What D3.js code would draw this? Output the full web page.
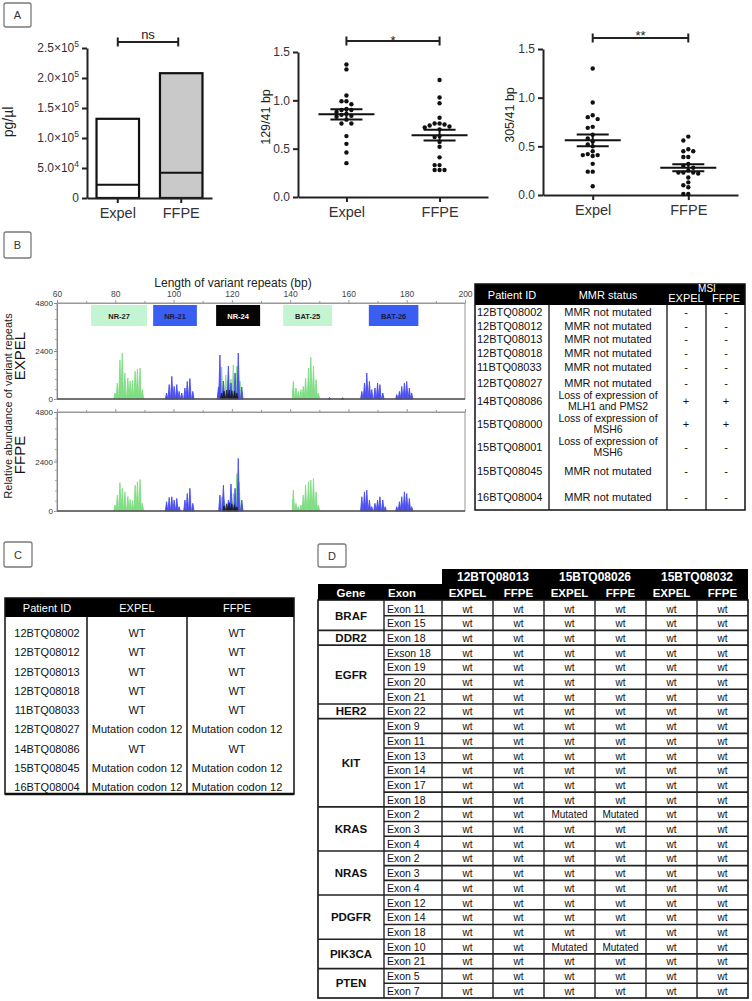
<!DOCTYPE html>
<html><head><meta charset="utf-8">
<script src="https://cdn.jsdelivr.net/npm/d3@7/dist/d3.min.js"></script>
<style>
html,body{margin:0;padding:0;background:#fff;}
svg{display:block;font-family:Arial,"Liberation Sans",Helvetica,sans-serif;}
</style></head>
<body>
<svg id="fig" width="752" height="1001" viewBox="0 0 752 1001"></svg>
<script>
// ================= DATA =================
// Panel A
const groups = ["Expel", "FFPE"];
const dnaTotal = [132000, 208000];
const dnaInner = [22000, 42000];
const dnaTicks = [0, 50000, 100000, 150000, 200000, 250000];
const dnaTickMantissa = ["0", "5.0", "1.0", "1.5", "2.0", "2.5"];
const dnaTickExponent = ["", "4", "5", "5", "5", "5"];
const ratioTicks = [0, 0.5, 1.0, 1.5];
const r129Expel = [1.32, 1.37, 1.05, 0.99, 0.99, 0.96, 0.91, 0.90, 0.90, 0.88, 0.86, 0.85, 0.84, 0.83, 0.80, 0.76, 0.76, 0.63, 0.55, 0.46, 0.35];
const r129FFPE = [1.21, 1.03, 0.97, 0.82, 0.76, 0.76, 0.75, 0.74, 0.73, 0.72, 0.70, 0.63, 0.62, 0.57, 0.52, 0.41, 0.33, 0.33, 0.28, 0.28, 0.28];
const r305Expel = [1.30, 0.95, 0.82, 0.80, 0.78, 0.70, 0.69, 0.62, 0.58, 0.55, 0.52, 0.50, 0.45, 0.42, 0.41, 0.41, 0.40, 0.32, 0.24, 0.24, 0.09];
const r305FFPE = [0.60, 0.56, 0.47, 0.45, 0.45, 0.39, 0.39, 0.32, 0.30, 0.28, 0.25, 0.23, 0.23, 0.23, 0.22, 0.18, 0.13, 0.10, 0.08, 0.01, 0.01];
const sigLabels = ["ns", "*", "**"];

// Panel B electropherogram
const bpTicks = [60, 80, 100, 120, 140, 160, 180, 200];
const bpMinorTicks = [70, 90, 110, 130, 150, 170, 190];
const abundanceTicks = [0, 2400, 4800];
const markerNames = ["NR-27", "NR-21", "NR-24", "BAT-25", "BAT-26"];
const markerStart = [71.7, 93.0, 114.6, 137.6, 167.0];
const markerEnd = [90.9, 108.0, 129.7, 154.4, 184.0];
const markerDye = ["green", "blue", "black", "green", "blue"];
const expelGreen = [[79.9,300],[80.7,800],[81.6,1950],[82.4,2300],[83.3,1300],[84.3,1050],[85.1,900],[85.9,930],[86.8,1390],[87.6,1500],[88.5,1550],[89.3,470],
  [115.9,400],[116.5,1600],[117.9,1200],[119.7,1000],[120.5,1700],[121.7,1650],[122.8,900],
  [141.1,880],[142.0,550],[142.8,380],[143.7,470],[144.5,630],[145.3,1050],[146.3,1550],[147.1,2080],[148.0,1640],[148.9,970],[149.7,300]];
const expelBlue = [[97.6,300],[98.5,720],[99.4,1130],[100.2,630],[101.1,720],[101.9,380],[102.8,300],[103.9,550],[104.7,880],[105.6,1020],[106.6,380],
  [115.4,600],[115.9,2200],[117.1,900],[118.8,1640],[119.7,800],[121.1,1300],[122.2,2300],[123.4,600],
  [153.5,80],[158.0,60],
  [164.6,380],[165.5,800],[166.3,1300],[167.2,880],[168.0,470],[169.1,550],[170.0,800],[170.8,720],[171.8,300],
  [176.6,220],[177.5,380],[178.3,630],[179.2,800],[180.0,880],[180.9,550],[181.7,300]];
const expelBlack = [[116.5,300],[117.3,400],[118.2,450],[119.1,450],[120.0,420],[120.9,400],[121.7,300]];
const ffpeGreen = [[79.9,290],[80.7,770],[81.6,1370],[82.4,1100],[83.3,930],[84.3,700],[85.1,560],[85.9,500],[86.8,1250],[87.6,1420],[88.5,1530],[89.3,370],
  [116.5,690],[117.5,500],[119.0,450],[120.5,850],[121.7,1820],[122.5,1400],[123.4,300],
  [141.1,1010],[142.0,370],[142.8,210],[143.7,290],[144.5,770],[145.3,1250],[146.3,1420],[147.1,1500],[148.0,1580],[148.9,930],[149.7,290]];
const ffpeBlue = [[97.6,450],[98.5,660],[99.4,690],[100.2,530],[101.1,610],[101.9,210],[103.9,530],[104.7,850],[105.6,1100],[106.6,370],
  [115.9,770],[117.1,1250],[118.8,530],[119.7,1310],[121.1,1100],[122.2,2550],[123.4,530],
  [164.6,690],[165.5,930],[166.3,1010],[167.2,530],[168.0,210],[169.1,370],[170.0,530],[170.8,690],[171.8,530],[172.6,210],
  [176.6,210],[177.5,450],[178.3,690],[179.2,930],[180.0,850],[180.9,610],[181.7,210]];
const ffpeBlack = [[117.3,250],[118.2,350],[119.1,400],[120.0,350],[120.9,300],[121.7,200]];

// Panel B table
const msiPatients = ["12BTQ08002","12BTQ08012","12BTQ08013","12BTQ08018","11BTQ08033","12BTQ08027","14BTQ08086","15BTQ08000","15BTQ08001","15BTQ08045","16BTQ08004"];
const mmrStatus = ["MMR not mutated","MMR not mutated","MMR not mutated","MMR not mutated","MMR not mutated","MMR not mutated",
  "Loss of expression of|MLH1 and PMS2","Loss of expression of|MSH6","Loss of expression of|MSH6","MMR not mutated","MMR not mutated"];
const msiExpel = ["-","-","-","-","-","-","+","+","-","-","-"];
const msiFFPE  = ["-","-","-","-","-","-","+","+","-","-","-"];

// Panel C table
const krasPatients = ["12BTQ08002","12BTQ08012","12BTQ08013","12BTQ08018","11BTQ08033","12BTQ08027","14BTQ08086","15BTQ08045","16BTQ08004"];
const krasExpel = ["WT","WT","WT","WT","WT","Mutation codon 12","WT","Mutation codon 12","Mutation codon 12"];
const krasFFPE  = ["WT","WT","WT","WT","WT","Mutation codon 12","WT","Mutation codon 12","Mutation codon 12"];

// Panel D table
const genes = ["BRAF","DDR2","EGFR","HER2","KIT","KRAS","NRAS","PDGFR","PIK3CA","PTEN"];
const geneExons = [["Exon 11","Exon 15"],["Exon 18"],["Exson 18","Exon 19","Exon 20","Exon 21"],["Exon 22"],
  ["Exon 9","Exon 11","Exon 13","Exon 14","Exon 17","Exon 18"],["Exon 2","Exon 3","Exon 4"],["Exon 2","Exon 3","Exon 4"],
  ["Exon 12","Exon 14","Exon 18"],["Exon 10","Exon 21"],["Exon 5","Exon 7"]];
const ngsPatients = ["12BTQ08013","15BTQ08026","15BTQ08032"];
const sampleTypes = ["EXPEL","FFPE"];
const mutatedGene = ["KRAS","PIK3CA"];
const mutatedExon = ["Exon 2","Exon 10"];
const mutatedPatient = ["15BTQ08026","15BTQ08026"];

// ================= DRAW =================
const svg = d3.select("#fig");
const FONT = 'Arial, "Liberation Sans", Helvetica, sans-serif';

function panelLabel(x, y, w, h, t) {
  svg.append("rect").attr("x", x).attr("y", y).attr("width", w).attr("height", h).attr("rx", 2)
    .attr("fill", "#fff").attr("stroke", "#7a7a7a").attr("stroke-width", 1.3);
  svg.append("text").attr("x", x + w / 2).attr("y", y + h / 2 + 4).attr("text-anchor", "middle")
    .attr("font-size", 11).attr("fill", "#333").text(t);
}
function styleAxis(g, fs, col, w) {
  g.attr("font-family", FONT);
  g.select(".domain").attr("stroke", col).attr("stroke-width", w);
  g.selectAll(".tick line").attr("stroke", col).attr("stroke-width", w);
  g.selectAll(".tick text").attr("font-size", fs).attr("fill", "#333");
}
function bracket(xa, xb, y, label, ty, fs) {
  const p = d3.path();
  p.moveTo(xa, y); p.lineTo(xb, y);
  p.moveTo(xa, y - 4.5); p.lineTo(xa, y + 4.5);
  p.moveTo(xb, y - 4.5); p.lineTo(xb, y + 4.5);
  svg.append("path").attr("d", p.toString()).attr("stroke", "#222").attr("stroke-width", 2).attr("fill", "none");
  svg.append("text").attr("x", (xa + xb) / 2).attr("y", ty).attr("text-anchor", "middle")
    .attr("font-size", fs).attr("fill", "#222").text(label);
}

// ---- Panel A
panelLabel(4, 3, 27, 24, "A");

// bar chart
const yA1 = d3.scaleLinear().domain([0, 250000]).range([198, 48]);
const xA1 = d3.scaleBand().domain(groups).range([87, 212]).paddingInner(0.33).paddingOuter(0.15);
const gy1 = svg.append("g").attr("transform", "translate(87,0)")
  .call(d3.axisLeft(yA1).tickValues(dnaTicks).tickSize(5).tickSizeOuter(0));
styleAxis(gy1, 12, "#222", 2);
gy1.selectAll(".tick text").each(function (d) {
  const k = dnaTicks.indexOf(d);
  const t = d3.select(this).text("");
  if (!dnaTickExponent[k]) { t.text(dnaTickMantissa[k]); return; }
  t.append("tspan").text(dnaTickMantissa[k] + "×10");
  t.append("tspan").attr("dy", -5).attr("font-size", 8.5).text(dnaTickExponent[k]);
});
svg.selectAll(".barA").data(groups).join("rect").attr("class", "barA")
  .attr("x", d => xA1(d)).attr("y", (d, i) => yA1(dnaTotal[i]))
  .attr("width", xA1.bandwidth()).attr("height", (d, i) => yA1(0) - yA1(dnaTotal[i]))
  .attr("fill", (d, i) => i ? "#c9c9c9" : "#fff").attr("stroke", "#111").attr("stroke-width", 2.2);
svg.selectAll(".barInner").data(groups).join("line").attr("class", "barInner")
  .attr("x1", d => xA1(d)).attr("x2", d => xA1(d) + xA1.bandwidth())
  .attr("y1", (d, i) => yA1(dnaInner[i])).attr("y2", (d, i) => yA1(dnaInner[i]))
  .attr("stroke", "#111").attr("stroke-width", 2);
const gx1 = svg.append("g").attr("transform", "translate(0,198)")
  .call(d3.axisBottom(xA1).tickSize(5).tickSizeOuter(0).tickPadding(5));
styleAxis(gx1, 14.5, "#222", 2);
svg.append("text").attr("transform", "translate(13,122) rotate(-90)").attr("text-anchor", "middle")
  .attr("font-size", 14).attr("fill", "#222").text("pg/µl");
bracket(xA1("Expel") + xA1.bandwidth() / 2, xA1("FFPE") + xA1.bandwidth() / 2 - 3, 42, sigLabels[0], 39, 13);

// scatter
function swarm(vals, y, cx, r) {
  const pts = vals.map(v => ({ v, y: y(v) })).sort((a, b) => a.y - b.y);
  const placed = [];
  const s = r * 2.25;
  for (const p of pts) {
    for (let k = 0; k < 30; k++) {
      const off = (k % 2 ? -1 : 1) * Math.ceil(k / 2) * s;
      const x = cx + off;
      const ok = placed.every(q => (q.x - x) ** 2 + (q.y - p.y) ** 2 >= (2 * r + 0.4) ** 2);
      if (ok) { p.x = x; placed.push(p); break; }
    }
  }
  return placed;
}
function scatter(cfg) {
  const y = d3.scaleLinear().domain([0, 1.5]).range([cfg.y0, cfg.y1]);
  const x = d3.scalePoint().domain(groups).range([cfg.x0, cfg.x1]).padding(0.52);
  const gy = svg.append("g").attr("transform", `translate(${cfg.x0},0)`)
    .call(d3.axisLeft(y).tickValues(ratioTicks).tickFormat(d3.format(".1f")).tickSize(5).tickSizeOuter(0));
  styleAxis(gy, 12, "#222", 2);
  const gx = svg.append("g").attr("transform", `translate(0,${cfg.y0})`)
    .call(d3.axisBottom(x).tickSize(5).tickSizeOuter(0).tickPadding(5));
  styleAxis(gx, 14.5, "#222", 2);
  svg.append("text").attr("transform", `translate(${cfg.lx},${cfg.ly}) rotate(-90)`).attr("text-anchor", "middle")
    .attr("font-size", 12.5).attr("fill", "#222").text(cfg.label);
  groups.forEach((g, i) => {
    const cx = x(g);
    const vals = cfg.vals[i];
    const pts = swarm(vals, y, cx, 2.2);
    svg.append("g").selectAll("circle").data(pts).join("circle")
      .attr("cx", d => d.x).attr("cy", d => d.y).attr("r", 2.2).attr("fill", "#111");
    const m = d3.mean(vals), se = d3.deviation(vals) / Math.sqrt(vals.length);
    const lg = svg.append("g").attr("stroke", "#111").attr("stroke-width", 2);
    lg.append("line").attr("x1", cx - 28).attr("x2", cx + 28).attr("y1", y(m)).attr("y2", y(m));
    lg.append("line").attr("x1", cx - 16).attr("x2", cx + 16).attr("y1", y(m + se)).attr("y2", y(m + se));
    lg.append("line").attr("x1", cx - 16).attr("x2", cx + 16).attr("y1", y(m - se)).attr("y2", y(m - se));
    lg.append("line").attr("x1", cx).attr("x2", cx).attr("y1", y(m + se)).attr("y2", y(m - se));
  });
  bracket(x("Expel"), x("FFPE"), cfg.by, cfg.sig, cfg.sy, 13);
}
scatter({ x0: 298, x1: 488, y0: 197, y1: 52, vals: [r129Expel, r129FFPE], label: "129/41 bp", lx: 270, ly: 117, by: 41, sig: sigLabels[1], sy: 45 });
scatter({ x0: 543, x1: 738, y0: 195, y1: 49, vals: [r305Expel, r305FFPE], label: "305/41 bp", lx: 514, ly: 115, by: 38, sig: sigLabels[2], sy: 40 });

// ---- Panel B
panelLabel(4, 232, 27, 26, "B");
const xB = d3.scaleLinear().domain([60, 200]).range([57, 465]);
const yBE = d3.scaleLinear().domain([0, 4800]).range([399, 303]);
const yBF = d3.scaleLinear().domain([0, 4800]).range([511, 412]);
const dyeColor = { green: "#7fdc82", blue: "#4a4cf0", black: "#111" };
const boxColor = { green: "#c3f5d2", blue: "#3b5ef2", black: "#050505" };
const boxText = { green: "#222", blue: "#1a1a40", black: "#fff" };

svg.append("text").attr("x", 233).attr("y", 287).attr("text-anchor", "middle").attr("font-size", 12)
  .attr("fill", "#222").text("Length of variant repeats (bp)");

function trace(yS, top, bottom, series, withLabels) {
  svg.append("rect").attr("x", xB(60)).attr("y", top).attr("width", xB(200) - xB(60)).attr("height", bottom - top)
    .attr("fill", "#fff").attr("stroke", "#999").attr("stroke-width", 1);
  const gt = svg.append("g").attr("transform", `translate(0,${top})`)
    .call(d3.axisTop(xB).tickValues(bpTicks).tickSize(3).tickSizeOuter(0).tickFormat(withLabels ? d3.format("d") : ""));
  styleAxis(gt, 8.5, "#999", 1);
  gt.selectAll(".tick text").attr("fill", "#444");
  const gm = svg.append("g").attr("transform", `translate(0,${top})`)
    .call(d3.axisTop(xB).tickValues(bpMinorTicks).tickSize(2).tickFormat(""));
  styleAxis(gm, 8, "#999", 1);
  gm.select(".domain").remove();
  const gl = svg.append("g").attr("transform", `translate(${xB(60)},0)`)
    .call(d3.axisLeft(yS).tickValues(abundanceTicks).tickSize(3).tickSizeOuter(0).tickFormat(d3.format("d")).tickPadding(1));
  styleAxis(gl, 8, "#888", 1);
  gl.selectAll(".tick text").attr("fill", "#333");
  const gl2 = svg.append("g").attr("transform", `translate(${xB(60)},0)`)
    .call(d3.axisLeft(yS).ticks(12).tickSize(2).tickFormat(""));
  styleAxis(gl2, 8, "#aaa", 1);
  gl2.select(".domain").remove();
  series.forEach(([peaks, dye]) => {
    svg.append("g").selectAll("path").data(peaks).join("path")
      .attr("d", d => `M${xB(d[0] - 0.42)},${yS(0)}L${xB(d[0])},${yS(d[1])}L${xB(d[0] + 0.42)},${yS(0)}Z`)
      .attr("fill", dyeColor[dye]).attr("stroke", dyeColor[dye]).attr("stroke-width", 0.9)
      .attr("stroke-linejoin", "round").attr("opacity", dye === "black" ? 0.85 : 1);
  });
  svg.append("line").attr("x1", xB(60)).attr("x2", xB(200)).attr("y1", yS(0)).attr("y2", yS(0))
    .attr("stroke", "#555").attr("stroke-width", 1.6);
}
trace(yBE, 303, 399, [[expelGreen, "green"], [expelBlue, "blue"], [expelBlack, "black"]], true);
trace(yBF, 412, 511, [[ffpeGreen, "green"], [ffpeBlue, "blue"], [ffpeBlack, "black"]], false);

const mk = svg.append("g").selectAll("g").data(markerNames).join("g");
mk.append("rect").attr("x", (d, i) => xB(markerStart[i])).attr("y", 305)
  .attr("width", (d, i) => xB(markerEnd[i]) - xB(markerStart[i])).attr("height", 21)
  .attr("fill", (d, i) => boxColor[markerDye[i]]);
mk.append("text").attr("x", (d, i) => (xB(markerStart[i]) + xB(markerEnd[i])) / 2).attr("y", 319)
  .attr("text-anchor", "middle").attr("font-size", 7.5).attr("font-weight", "bold")
  .attr("fill", (d, i) => boxText[markerDye[i]]).text(d => d);

svg.append("text").attr("transform", "translate(12,406) rotate(-90)").attr("text-anchor", "middle")
  .attr("font-size", 11).attr("fill", "#222").text("Relative abundance of variant repeats");
svg.append("text").attr("transform", "translate(25,356) rotate(-90)").attr("text-anchor", "middle")
  .attr("font-size", 15).attr("fill", "#111").text("EXPEL");
svg.append("text").attr("transform", "translate(25,455) rotate(-90)").attr("text-anchor", "middle")
  .attr("font-size", 15).attr("fill", "#111").text("FFPE");

// ---- Panel B table
const tB = { left: 475, right: 745, top: 284, head: 305, bottom: 510, c1: 549, c2: 667, c3: 706 };
const rowCB = [312, 325.5, 339, 352.5, 366.5, 382.5, 400.5, 423.5, 446.5, 471, 496.5];
svg.append("rect").attr("x", tB.left).attr("y", tB.top).attr("width", tB.right - tB.left).attr("height", tB.head - tB.top).attr("fill", "#000");
svg.append("rect").attr("x", tB.left).attr("y", tB.top).attr("width", tB.right - tB.left).attr("height", tB.bottom - tB.top)
  .attr("fill", "none").attr("stroke", "#111").attr("stroke-width", 1.5);
[tB.c1, tB.c2, tB.c3].forEach(x => svg.append("line").attr("x1", x).attr("x2", x).attr("y1", tB.head).attr("y2", tB.bottom)
  .attr("stroke", "#111").attr("stroke-width", 1.3));
const hdB = svg.append("g").attr("fill", "#fff").attr("font-size", 11).attr("text-anchor", "middle");
hdB.append("text").attr("x", 512).attr("y", 299).text("Patient ID");
hdB.append("text").attr("x", 608).attr("y", 299).text("MMR status");
hdB.append("text").attr("x", 707).attr("y", 292).attr("font-size", 10).text("MSI");
hdB.append("text").attr("x", 686).attr("y", 302).text("EXPEL");
hdB.append("text").attr("x", 726).attr("y", 302).text("FFPE");
const rB = svg.append("g").attr("font-size", 11).attr("fill", "#111").selectAll("g").data(msiPatients).join("g");
rB.append("text").attr("x", 477).attr("y", (d, i) => rowCB[i] + 4).text(d => d);
rB.each(function (d, i) {
  const lines = mmrStatus[i].split("|");
  const g = d3.select(this);
  lines.forEach((ln, j) => {
    if (lines.length === 1) {
      g.append("text").attr("x", 608).attr("y", rowCB[i] + 4).attr("text-anchor", "middle").text(ln);
    } else {
      g.append("text").attr("x", 608).attr("y", rowCB[i] + (j === 0 ? -2 : 9.5))
        .attr("text-anchor", "middle").attr("font-size", 10.5).text(ln);
    }
  });
});
rB.append("text").attr("x", 686).attr("y", (d, i) => rowCB[i] + 4).attr("text-anchor", "middle").text((d, i) => msiExpel[i]);
rB.append("text").attr("x", 726).attr("y", (d, i) => rowCB[i] + 4).attr("text-anchor", "middle").text((d, i) => msiFFPE[i]);

// ---- Panel C
panelLabel(4, 542, 28, 25, "C");
const tC = { left: 5, right: 294, top: 598, head: 617, bottom: 794, c1: 87, c2: 187 };
svg.append("rect").attr("x", tC.left).attr("y", tC.top).attr("width", tC.right - tC.left).attr("height", tC.head - tC.top).attr("fill", "#000");
svg.append("rect").attr("x", tC.left).attr("y", tC.top).attr("width", tC.right - tC.left).attr("height", tC.bottom - tC.top)
  .attr("fill", "none").attr("stroke", "#111").attr("stroke-width", 1.5);
svg.append("line").attr("x1", tC.left).attr("x2", tC.right).attr("y1", tC.bottom).attr("y2", tC.bottom).attr("stroke", "#111").attr("stroke-width", 2.5);
[tC.c1, tC.c2].forEach(x => svg.append("line").attr("x1", x).attr("x2", x).attr("y1", tC.head).attr("y2", tC.bottom)
  .attr("stroke", "#111").attr("stroke-width", 1.5));
const hdC = svg.append("g").attr("fill", "#fff").attr("font-size", 11).attr("text-anchor", "middle");
hdC.append("text").attr("x", 47).attr("y", 612).text("Patient ID");
hdC.append("text").attr("x", 137).attr("y", 612).text("EXPEL");
hdC.append("text").attr("x", 237).attr("y", 612).text("FFPE");
const yC = d3.scalePoint().domain(krasPatients).range([633, 787]);
const rC = svg.append("g").attr("font-size", 11).attr("fill", "#111").attr("text-anchor", "middle")
  .selectAll("g").data(krasPatients).join("g").attr("transform", d => `translate(0,${yC(d) + 4})`);
rC.append("text").attr("x", 47).text(d => d);
rC.append("text").attr("x", 137).text((d, i) => krasExpel[i]);
rC.append("text").attr("x", 237).text((d, i) => krasFFPE[i]);

// ---- Panel D
panelLabel(318, 544, 28, 23, "D");
const tD = { left: 318, right: 748, geneR: 384, exonR: 442, h1: 569, h2: 584, head: 600, bottom: 998 };
const rowsD = genes.flatMap((g, gi) => geneExons[gi].map(e => ({ gene: g, exon: e })));
const yD = d3.scaleBand().domain(d3.range(rowsD.length)).range([601, tD.bottom]);
const colKeys = ngsPatients.flatMap(p => sampleTypes.map(s => p + "|" + s));
const xD = d3.scaleBand().domain(colKeys).range([tD.exonR, tD.right]);
svg.append("rect").attr("x", tD.exonR).attr("y", tD.h1).attr("width", tD.right - tD.exonR).attr("height", tD.h2 - tD.h1).attr("fill", "#000");
svg.append("rect").attr("x", tD.left).attr("y", tD.h2).attr("width", tD.right - tD.left).attr("height", tD.head - tD.h2).attr("fill", "#000");
svg.append("rect").attr("x", tD.left).attr("y", tD.head).attr("width", tD.right - tD.left).attr("height", tD.bottom - tD.head)
  .attr("fill", "none").attr("stroke", "#111").attr("stroke-width", 1.6);
svg.append("g").selectAll("line").data(d3.range(1, rowsD.length)).join("line")
  .attr("x1", i => rowsD[i].gene !== rowsD[i - 1].gene ? tD.left : tD.geneR).attr("x2", tD.right)
  .attr("y1", i => yD(i)).attr("y2", i => yD(i)).attr("stroke", "#222").attr("stroke-width", 1.6);
svg.append("g").selectAll("line").data([tD.geneR, ...colKeys.map(k => xD(k))]).join("line")
  .attr("x1", d => d).attr("x2", d => d).attr("y1", tD.head).attr("y2", tD.bottom).attr("stroke", "#222").attr("stroke-width", 1.4);
svg.append("g").selectAll("text").data(ngsPatients).join("text")
  .attr("x", p => xD(p + "|EXPEL") + xD.bandwidth()).attr("y", 581).attr("text-anchor", "middle")
  .attr("font-size", 12).attr("font-weight", "bold").attr("fill", "#fff").text(p => p);
const hdD = svg.append("g").attr("fill", "#fff").attr("font-size", 11.5).attr("font-weight", "bold");
hdD.append("text").attr("x", 351).attr("y", 597).attr("text-anchor", "middle").text("Gene");
hdD.append("text").attr("x", 388).attr("y", 597).text("Exon");
hdD.selectAll(".st").data(colKeys).join("text").attr("class", "st").attr("x", k => xD(k) + xD.bandwidth() / 2)
  .attr("y", 597).attr("text-anchor", "middle").text(k => k.split("|")[1]);
svg.append("g").selectAll("text").data(genes).join("text")
  .attr("x", 351).attr("y", g => {
    const idx = rowsD.map((r, i) => r.gene === g ? i : -1).filter(i => i >= 0);
    return (yD(idx[0]) + yD(idx[idx.length - 1]) + yD.bandwidth()) / 2 + 4;
  }).attr("text-anchor", "middle").attr("font-size", 11.5).attr("font-weight", "bold").attr("fill", "#111").text(g => g);
svg.append("g").selectAll("text").data(rowsD).join("text")
  .attr("x", 387).attr("y", (d, i) => yD(i) + 11.5).attr("font-size", 10.5).attr("fill", "#111").text(d => d.exon);
function cellValue(r, key) {
  const pat = key.split("|")[0];
  for (let m = 0; m < mutatedGene.length; m++)
    if (mutatedGene[m] === r.gene && mutatedExon[m] === r.exon && mutatedPatient[m] === pat) return "Mutated";
  return "wt";
}
const cells = rowsD.flatMap((r, i) => colKeys.map(k => ({ i, k, v: cellValue(r, k) })));
svg.append("g").selectAll("text").data(cells).join("text")
  .attr("x", d => xD(d.k) + xD.bandwidth() / 2).attr("y", d => yD(d.i) + 11.5).attr("text-anchor", "middle")
  .attr("font-size", 10).attr("fill", "#111").text(d => d.v);
</script>
</body></html>
